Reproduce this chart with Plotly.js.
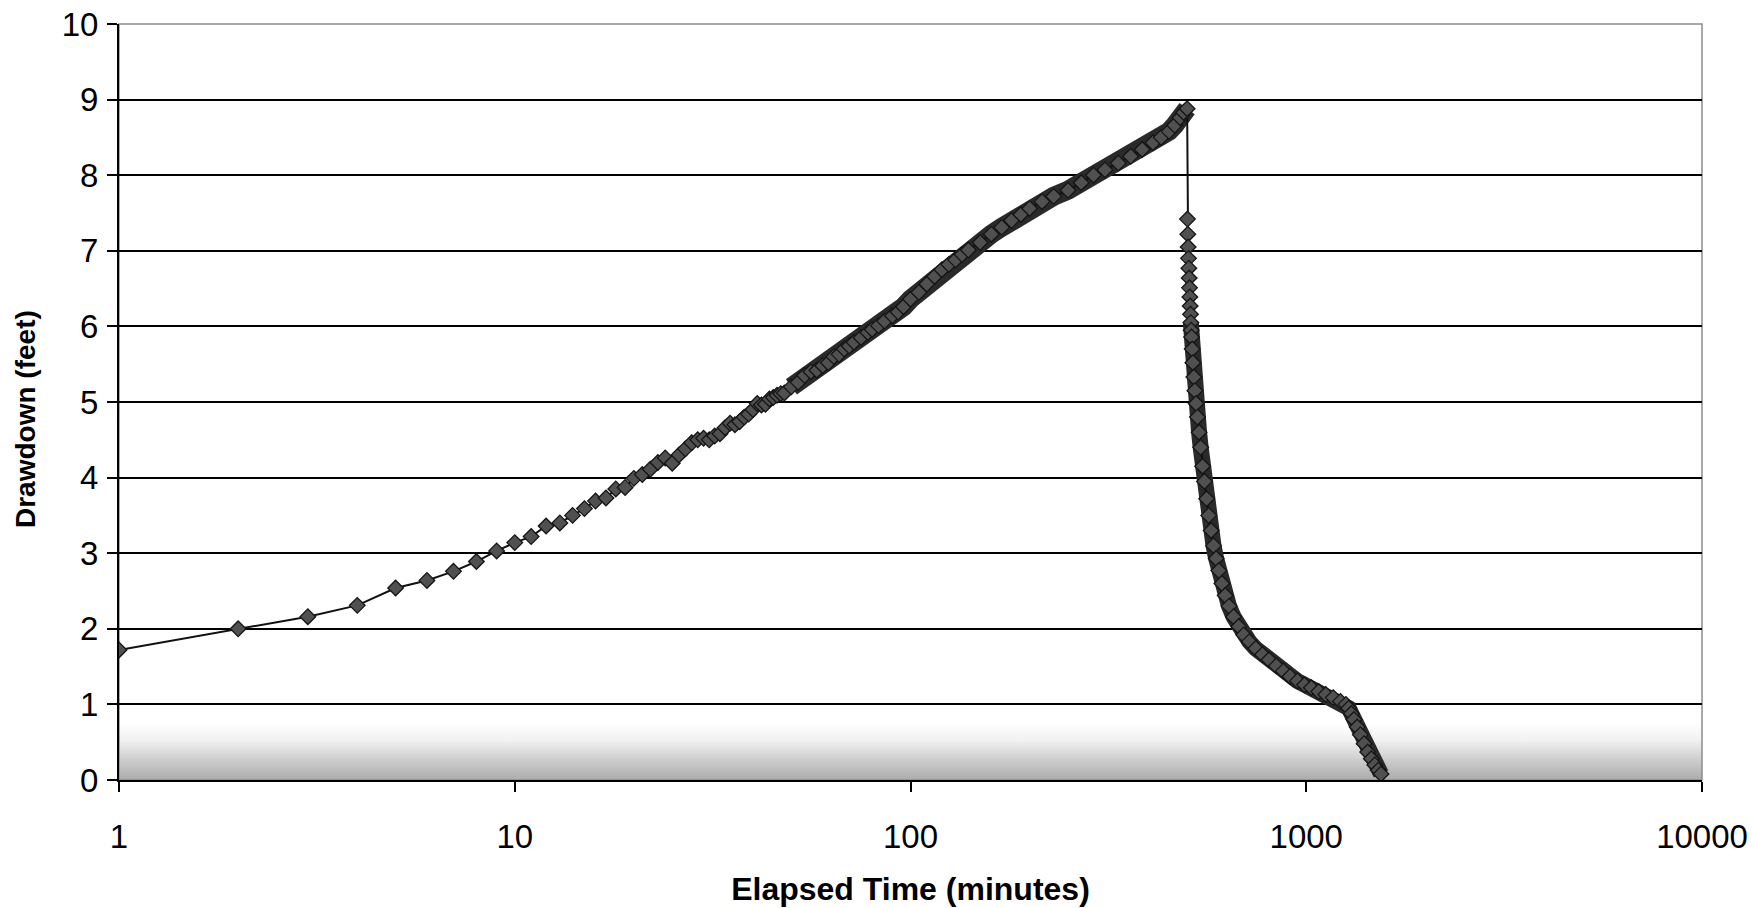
<!DOCTYPE html>
<html>
<head>
<meta charset="utf-8">
<script src="https://cdn.plot.ly/plotly-3.0.1.min.js"></script>
<style>
  html, body { margin: 0; padding: 0; background: #ffffff; }
  #chart { width: 1752px; height: 908px; }
</style>
</head>
<body>
<div id="chart"></div>
<script>
// ---- Data (elapsed minutes, drawdown in feet) ----
const pumpTime = [1,2,3,4,5,6,7,8,9,10,11,12,13,14,15,16,17,18,19,20,
  21,22,23,24,25,26,27,28,29,30,31,32,33,34,35,36,37,38,39,40,
  41,42,43,44,45,46,47,48,50,52,54,56,58,60,62,64,66,68,70,72,
  75,78,80,83,86,90,93,96,100,105,110,115,120,125,130,135,140,150,160,170,
  180,190,200,215,230,250,270,290,310,335,360,385,410,430,450,465,480,490,500];
const pumpDrawdown = [1.72,2.00,2.16,2.31,2.54,2.64,2.76,2.89,3.03,3.14,3.22,3.36,3.40,3.50,3.59,3.69,3.73,3.85,3.87,3.99,
  4.04,4.11,4.20,4.26,4.19,4.30,4.38,4.46,4.50,4.52,4.50,4.55,4.58,4.66,4.72,4.70,4.74,4.80,4.84,4.90,
  4.98,4.96,4.97,5.04,5.06,5.09,5.11,5.12,5.20,5.26,5.35,5.40,5.42,5.48,5.52,5.60,5.63,5.70,5.74,5.79,
  5.85,5.92,5.96,6.01,6.07,6.14,6.19,6.26,6.36,6.45,6.56,6.66,6.75,6.82,6.88,6.95,7.01,7.11,7.22,7.31,
  7.40,7.48,7.56,7.65,7.72,7.80,7.90,8.00,8.07,8.16,8.25,8.34,8.43,8.50,8.58,8.66,8.76,8.83,8.88];

const recoveryTime = [501,502,503,504,505,506,507,508,509,510,511,512,513,515,517,520,523,527,531,536,
  541,547,553,560,567,575,583,592,601,612,624,638,655,675,695,718,745,775,805,840,
  875,910,950,990,1030,1075,1120,1170,1220,1260,1280,1300,1320,1345,1370,1400,1430,1460,1490,1520,1545];
const recoveryDrawdown = [7.42,7.22,7.05,6.90,6.77,6.64,6.51,6.39,6.27,6.16,6.05,5.95,5.86,5.70,5.52,5.33,5.15,4.98,4.80,4.60,
  4.40,4.15,3.95,3.72,3.50,3.30,3.10,2.93,2.77,2.60,2.44,2.30,2.16,2.03,1.92,1.83,1.74,1.66,1.59,1.51,
  1.44,1.37,1.31,1.26,1.22,1.17,1.13,1.09,1.04,1.00,0.95,0.88,0.80,0.70,0.60,0.48,0.37,0.28,0.20,0.13,0.08];

const xTickValues = [1, 10, 100, 1000, 10000];
const xTickLabels = ['1', '10', '100', '1000', '10000'];
const yTickValues = [0, 1, 2, 3, 4, 5, 6, 7, 8, 9, 10];
const yTickLabels = ['0', '1', '2', '3', '4', '5', '6', '7', '8', '9', '10'];
const xTitleText = 'Elapsed Time (minutes)';
const yTitleText = 'Drawdown (feet)';

// where the measured points become so dense that they merge into a solid band
const pumpBandFrom = 50;
const recoveryBandFrom = 511;

// ---- Build traces ----
const allTime = pumpTime.concat(recoveryTime);
const allDrawdown = pumpDrawdown.concat(recoveryDrawdown);

function pick(times, values, test) {
  const t = [], v = [];
  times.forEach((x, i) => { if (test(x)) { t.push(x); v.push(values[i]); } });
  return { t, v };
}
const pumpBand = pick(pumpTime, pumpDrawdown, x => x >= pumpBandFrom);
const recBand = pick(recoveryTime, recoveryDrawdown, x => x >= recoveryBandFrom);

const traces = [
  { x: pumpBand.t, y: pumpBand.v, type: 'scatter', mode: 'lines',
    line: { color: '#2a2a2a', width: 19 }, hoverinfo: 'skip', showlegend: false },
  { x: recBand.t, y: recBand.v, type: 'scatter', mode: 'lines',
    line: { color: '#2a2a2a', width: 16 }, hoverinfo: 'skip', showlegend: false },
  { x: allTime, y: allDrawdown, type: 'scatter', mode: 'lines+markers',
    name: 'Drawdown',
    line: { color: '#111111', width: 2 },
    marker: { symbol: 'diamond', size: 12, color: '#505050',
              line: { color: '#151515', width: 1.3 } },
    showlegend: false }
];

// grey gradient near the bottom of the plot area (scanned Excel fill)
const gradSvg = "<svg xmlns='http://www.w3.org/2000/svg' width='10' height='100' preserveAspectRatio='none'>" +
  "<defs><linearGradient id='g' x1='0' y1='0' x2='0' y2='1'>" +
  "<stop offset='0' stop-color='#ffffff'/><stop offset='0.3' stop-color='#f1f1f1'/>" +
  "<stop offset='0.6' stop-color='#d2d2d2'/><stop offset='1' stop-color='#ababab'/>" +
  "</linearGradient></defs><rect width='10' height='100' fill='url(#g)'/></svg>";
const gradSrc = 'data:image/svg+xml;charset=utf-8,' + encodeURIComponent(gradSvg);

const font = 'Liberation Sans, Arial, Helvetica, sans-serif';

const layout = {
  width: 1752, height: 908,
  margin: { l: 119, r: 50, t: 24, b: 128, pad: 0 },
  paper_bgcolor: '#ffffff',
  plot_bgcolor: '#ffffff',
  font: { family: font, color: '#000000' },
  showlegend: false,
  xaxis: {
    type: 'log', range: [0, 4],
    tickmode: 'array', tickvals: xTickValues, ticktext: xTickLabels,
    tickfont: { size: 33, family: font, color: '#000' },
    ticks: 'outside', ticklen: 10, tickwidth: 2, tickcolor: '#000',
    ticklabelstandoff: 16,
    showgrid: false, zeroline: false,
    showline: true, linecolor: '#000', linewidth: 2,
    title: { text: xTitleText, font: { size: 32, family: font, color: '#000', weight: 'bold' }, standoff: 24 }
  },
  yaxis: {
    range: [0, 10],
    tickmode: 'array', tickvals: yTickValues, ticktext: yTickLabels,
    tickfont: { size: 33, family: font, color: '#000' },
    ticks: 'outside', ticklen: 10, tickwidth: 2, tickcolor: '#000',
    ticklabelstandoff: 2,
    showgrid: true, gridcolor: '#000', gridwidth: 2,
    zeroline: false,
    showline: true, linecolor: '#000', linewidth: 2
  },
  annotations: [{
    text: '<b>' + yTitleText + '</b>', textangle: -90,
    xref: 'paper', yref: 'paper', x: 0, y: 0.5,
    xanchor: 'center', yanchor: 'middle', xshift: -94, yshift: -17,
    showarrow: false,
    font: { size: 28, family: font, color: '#000' }
  }],
  images: [{
    source: gradSrc, xref: 'paper', yref: 'y',
    x: 0, y: 0.75, sizex: 1, sizey: 0.75,
    xanchor: 'left', yanchor: 'top', sizing: 'stretch', layer: 'below'
  }],
  shapes: [{
    type: 'rect', xref: 'paper', yref: 'paper', x0: 0, x1: 1, y0: 0, y1: 1,
    line: { color: '#8c8c8c', width: 1.5 }, fillcolor: 'rgba(0,0,0,0)', layer: 'below'
  }]
};

Plotly.newPlot('chart', traces, layout, { displayModeBar: false, staticPlot: true });
</script>
</body>
</html>
